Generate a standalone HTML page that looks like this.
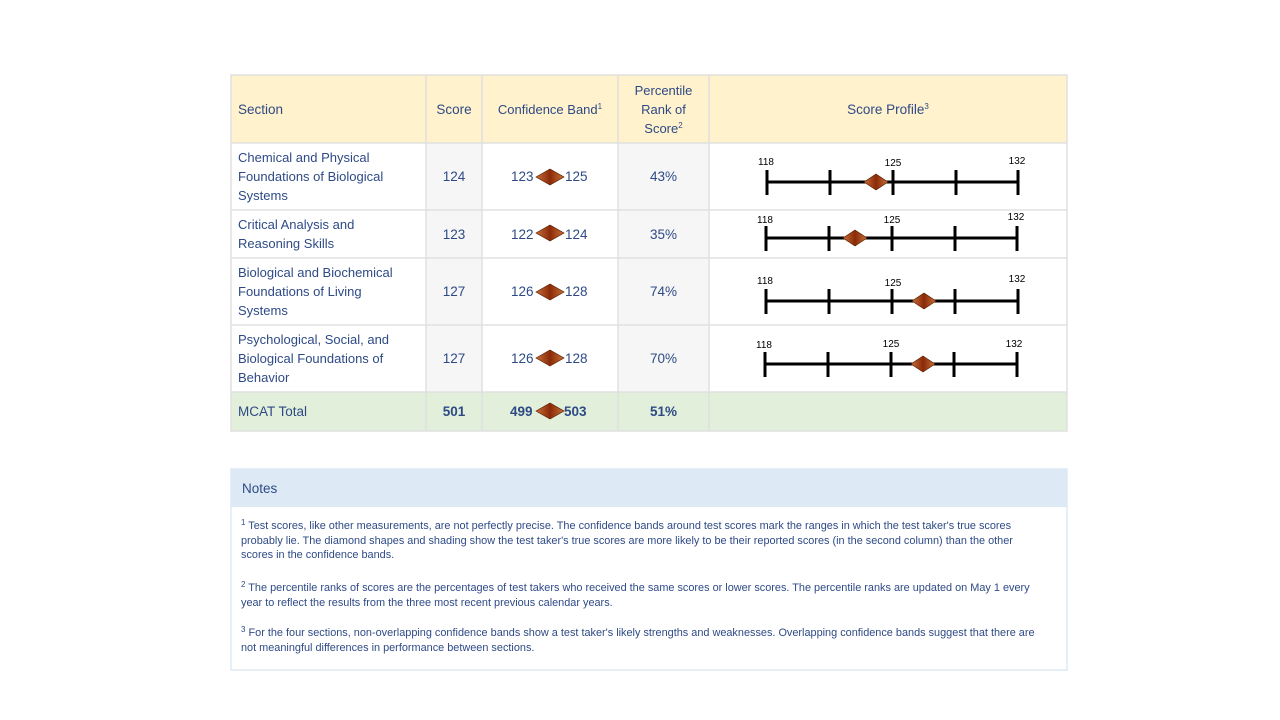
<!DOCTYPE html>
<html><head><style>
body{margin:0;width:1280px;height:720px;background:#fff;font-family:"Liberation Sans",sans-serif;color:#2e4a86;position:relative;overflow:hidden}
.a{position:absolute}
.c{position:absolute;display:flex;align-items:center;box-sizing:border-box;font-size:13.5px;line-height:19px}
.s{font-size:13px;white-space:nowrap}
.j{justify-content:center;text-align:center}
.n{font-size:10.9px;line-height:14.5px;color:#2e4a86;white-space:nowrap}
sup{font-size:8px;vertical-align:top;position:relative;top:-3px}
</style></head><body>
<div class="a" style="left:231px;top:75px;width:836px;height:68px;background:#fff2cc"></div>
<div class="a" style="left:426px;top:143px;width:56px;height:249px;background:#f6f6f6"></div>
<div class="a" style="left:618px;top:143px;width:91px;height:249px;background:#f6f6f6"></div>
<div class="a" style="left:231px;top:392px;width:836px;height:39px;background:#e2efda"></div>
<svg class="a" style="left:0;top:0" width="1280" height="720">
<g stroke="#e0e0e0" stroke-width="1.5" fill="none">
<rect x="231" y="75" width="836" height="356"/>
<line x1="426" y1="75" x2="426" y2="431"/><line x1="482" y1="75" x2="482" y2="431"/>
<line x1="618" y1="75" x2="618" y2="431"/><line x1="709" y1="75" x2="709" y2="431"/>
<line x1="231" y1="143" x2="1067" y2="143"/><line x1="231" y1="210" x2="1067" y2="210"/>
<line x1="231" y1="258" x2="1067" y2="258"/><line x1="231" y1="325" x2="1067" y2="325"/>
<line x1="231" y1="392" x2="1067" y2="392"/>
<rect x="231" y="469" width="836" height="201" stroke="#dde9f3"/>
</g>
<rect x="231" y="469" width="836" height="38" fill="#dde9f5"/>
<defs><linearGradient id="g" x1="0" x2="1"><stop offset="0" stop-color="#c8703a"/><stop offset="0.5" stop-color="#8a2a08"/><stop offset="1" stop-color="#c8703a"/></linearGradient></defs>
<g font-family="Liberation Sans" font-size="10" fill="#000" text-anchor="middle">
<g transform="translate(0,182)">
<line x1="767" y1="0" x2="1018" y2="0" stroke="#000" stroke-width="3"/>
<g stroke="#000" stroke-width="3"><line x1="767" y1="-12" x2="767" y2="13"/><line x1="830" y1="-12" x2="830" y2="13"/><line x1="893" y1="-12" x2="893" y2="13"/><line x1="956" y1="-12" x2="956" y2="13"/><line x1="1018" y1="-12" x2="1018" y2="13"/></g>
<text x="766" y="-17">118</text><text x="893" y="-16">125</text><text x="1017" y="-18">132</text>
<polygon points="864,0 876,-8 888,0 876,8" fill="url(#g)" stroke="#5a2000" stroke-width="0.7"/></g>
<g transform="translate(0,238)">
<line x1="766" y1="0" x2="1017" y2="0" stroke="#000" stroke-width="3"/>
<g stroke="#000" stroke-width="3"><line x1="766" y1="-12" x2="766" y2="13"/><line x1="829" y1="-12" x2="829" y2="13"/><line x1="892" y1="-12" x2="892" y2="13"/><line x1="955" y1="-12" x2="955" y2="13"/><line x1="1017" y1="-12" x2="1017" y2="13"/></g>
<text x="765" y="-15">118</text><text x="892" y="-15">125</text><text x="1016" y="-18">132</text>
<polygon points="843,0 855,-8 867,0 855,8" fill="url(#g)" stroke="#5a2000" stroke-width="0.7"/></g>
<g transform="translate(0,301)">
<line x1="766" y1="0" x2="1018" y2="0" stroke="#000" stroke-width="3"/>
<g stroke="#000" stroke-width="3"><line x1="766" y1="-12" x2="766" y2="13"/><line x1="829" y1="-12" x2="829" y2="13"/><line x1="892" y1="-12" x2="892" y2="13"/><line x1="955" y1="-12" x2="955" y2="13"/><line x1="1018" y1="-12" x2="1018" y2="13"/></g>
<text x="765" y="-17">118</text><text x="893" y="-15">125</text><text x="1017" y="-19">132</text>
<polygon points="912,0 924,-8 936,0 924,8" fill="url(#g)" stroke="#5a2000" stroke-width="0.7"/></g>
<g transform="translate(0,364)">
<line x1="765" y1="0" x2="1017" y2="0" stroke="#000" stroke-width="3"/>
<g stroke="#000" stroke-width="3"><line x1="765" y1="-12" x2="765" y2="13"/><line x1="828" y1="-12" x2="828" y2="13"/><line x1="891" y1="-12" x2="891" y2="13"/><line x1="954" y1="-12" x2="954" y2="13"/><line x1="1017" y1="-12" x2="1017" y2="13"/></g>
<text x="764" y="-16">118</text><text x="891" y="-17">125</text><text x="1014" y="-17">132</text>
<polygon points="911,0 923,-8 935,0 923,8" fill="url(#g)" stroke="#5a2000" stroke-width="0.7"/></g>
</g>
<g fill="url(#g)" stroke="#5a2000" stroke-width="0.7">
<polygon points="536,177 550,169 564,177 550,185"/>
<polygon points="536,233 550,225 564,233 550,241"/>
<polygon points="536,292 550,284 564,292 550,300"/>
<polygon points="536,358 550,350 564,358 550,366"/>
<polygon points="536,411 550,403 564,411 550,419"/>
</g>
</svg>
<div class="c" style="left:238px;top:75px;height:68px">Section</div>
<div class="c j" style="left:426px;top:75px;width:56px;height:68px">Score</div>
<div class="c j" style="left:482px;top:75px;width:136px;height:68px;font-size:13px"><span>Confidence Band<sup>1</sup></span></div>
<div class="c j" style="left:618px;top:75px;width:91px;height:68px;font-size:13px"><span>Percentile<br>Rank of<br>Score<sup>2</sup></span></div>
<div class="c j" style="left:709px;top:75px;width:358px;height:68px"><span>Score Profile<sup>3</sup></span></div>
<div class="c s" style="left:238px;top:143px;height:67px">Chemical and Physical<br>Foundations of Biological<br>Systems</div>
<div class="c s" style="left:238px;top:210px;height:48px">Critical Analysis and<br>Reasoning Skills</div>
<div class="c s" style="left:238px;top:258px;height:67px">Biological and Biochemical<br>Foundations of Living<br>Systems</div>
<div class="c s" style="left:238px;top:325px;height:67px">Psychological, Social, and<br>Biological Foundations of<br>Behavior</div>
<div class="c" style="left:238px;top:392px;height:39px">MCAT Total</div>
<div class="c j" style="left:426px;top:143px;width:56px;height:67px">124</div>
<div class="c j" style="left:426px;top:210px;width:56px;height:48px">123</div>
<div class="c j" style="left:426px;top:258px;width:56px;height:67px">127</div>
<div class="c j" style="left:426px;top:325px;width:56px;height:67px">127</div>
<div class="c j" style="left:426px;top:392px;width:56px;height:39px;font-weight:bold">501</div>
<div class="c" style="left:511px;top:143px;height:67px">123</div><div class="c" style="left:565px;top:143px;height:67px">125</div>
<div class="c" style="left:511px;top:210px;height:48px">122</div><div class="c" style="left:565px;top:210px;height:48px">124</div>
<div class="c" style="left:511px;top:258px;height:67px">126</div><div class="c" style="left:565px;top:258px;height:67px">128</div>
<div class="c" style="left:511px;top:325px;height:67px">126</div><div class="c" style="left:565px;top:325px;height:67px">128</div>
<div class="c" style="left:510px;top:392px;height:39px;font-weight:bold">499</div><div class="c" style="left:564px;top:392px;height:39px;font-weight:bold">503</div>
<div class="c j" style="left:618px;top:143px;width:91px;height:67px">43%</div>
<div class="c j" style="left:618px;top:210px;width:91px;height:48px">35%</div>
<div class="c j" style="left:618px;top:258px;width:91px;height:67px">74%</div>
<div class="c j" style="left:618px;top:325px;width:91px;height:67px">70%</div>
<div class="c j" style="left:618px;top:392px;width:91px;height:39px;font-weight:bold">51%</div>
<div class="c" style="left:242px;top:469px;height:38px;font-size:13.5px">Notes</div>
<div class="a n" style="left:241px;top:519px"><sup>1</sup> Test scores, like other measurements, are not perfectly precise. The confidence bands around test scores mark the ranges in which the test taker's true scores<br>probably lie. The diamond shapes and shading show the test taker's true scores are more likely to be their reported scores (in the second column) than the other<br>scores in the confidence bands.</div>
<div class="a n" style="left:241px;top:581px"><sup>2</sup> The percentile ranks of scores are the percentages of test takers who received the same scores or lower scores. The percentile ranks are updated on May 1 every<br>year to reflect the results from the three most recent previous calendar years.</div>
<div class="a n" style="left:241px;top:626px"><sup>3</sup> For the four sections, non-overlapping confidence bands show a test taker's likely strengths and weaknesses. Overlapping confidence bands suggest that there are<br>not meaningful differences in performance between sections.</div>
</body></html>
